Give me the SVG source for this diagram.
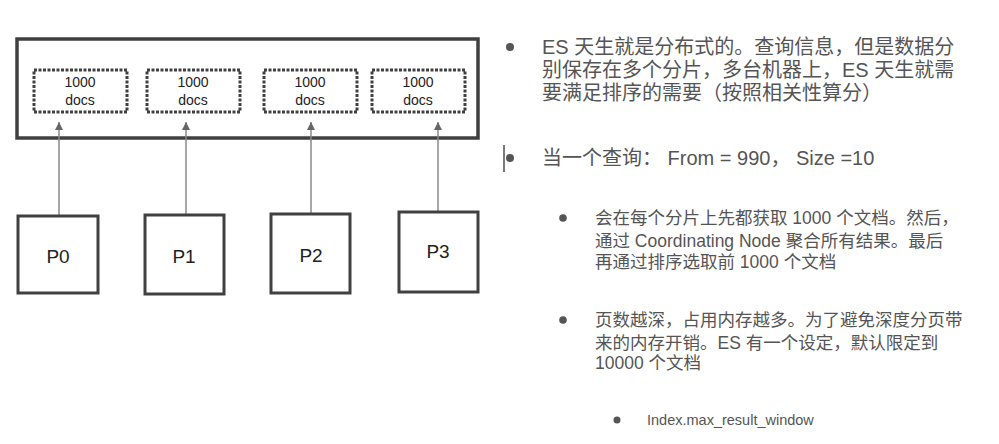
<svg xmlns="http://www.w3.org/2000/svg" width="999" height="444" viewBox="0 0 999 444">
<style>
.outer{fill:none;stroke:#404040;stroke-width:3.5}
.dot{fill:none;stroke:#404040;stroke-width:3;stroke-dasharray:3 1.5}
.pbox{fill:#fff;stroke:#404040;stroke-width:3}
.lbl{font-family:"Liberation Sans","Noto Sans CJK SC",sans-serif;fill:#222;text-anchor:middle}
.doc{font-size:14px}
.p{font-size:19px}
.conn{stroke:#8a8a8a;stroke-width:1.5;fill:none}
.t{font-family:"Liberation Sans","Noto Sans CJK SC",sans-serif;fill:#555}
.t1{font-size:20px}
.t2{font-size:17.5px}
.t3{font-size:14.5px}
.b{fill:#555}
</style>
<defs>
<marker id="ah" markerWidth="9" markerHeight="9" refX="8" refY="4" orient="auto" markerUnits="userSpaceOnUse" viewBox="0 0 9 8">
<path d="M0,0 L8,4 L0,8 Z" fill="#666"/>
</marker>
</defs>
<g id="index">
<rect class="outer" x="17" y="39" width="461" height="99"/>
</g>
<g id="shard0"><rect class="dot" x="34" y="70" width="93" height="42"/><text class="lbl doc" x="80" y="87">1000</text><text class="lbl doc" x="80" y="105">docs</text></g>
<g id="shard1"><rect class="dot" x="147" y="70" width="93" height="42"/><text class="lbl doc" x="193" y="87">1000</text><text class="lbl doc" x="193" y="105">docs</text></g>
<g id="shard2"><rect class="dot" x="264" y="70" width="93" height="42"/><text class="lbl doc" x="310" y="87">1000</text><text class="lbl doc" x="310" y="105">docs</text></g>
<g id="shard3"><rect class="dot" x="372" y="70" width="93" height="42"/><text class="lbl doc" x="418" y="87">1000</text><text class="lbl doc" x="418" y="105">docs</text></g>
<g id="connectors">
<line class="conn" x1="59" y1="216" x2="59" y2="122" marker-end="url(#ah)"/>
<line class="conn" x1="186" y1="214" x2="186" y2="122" marker-end="url(#ah)"/>
<line class="conn" x1="311" y1="213" x2="311" y2="122" marker-end="url(#ah)"/>
<line class="conn" x1="438" y1="212" x2="438" y2="122" marker-end="url(#ah)"/>
</g>
<g id="P0"><rect class="pbox" x="18" y="216" width="80" height="77"/><text class="lbl p" x="58" y="263">P0</text></g>
<g id="P1"><rect class="pbox" x="145" y="215" width="79" height="79"/><text class="lbl p" x="184" y="263">P1</text></g>
<g id="P2"><rect class="pbox" x="271" y="214" width="79" height="79"/><text class="lbl p" x="311" y="262">P2</text></g>
<g id="P3"><rect class="pbox" x="399" y="212" width="79" height="80"/><text class="lbl p" x="438" y="258">P3</text></g>
<g id="notes">
<circle class="b" cx="510" cy="47" r="4"/>
<text class="t t1" x="542" y="54">ES 天生就是分布式的。查询信息，但是数据分</text>
<text class="t t1" x="542" y="77">别保存在多个分片，多台机器上，ES 天生就需</text>
<text class="t t1" x="542" y="100">要满足排序的需要（按照相关性算分）</text>
<line x1="504" y1="145" x2="504" y2="172" stroke="#222" stroke-width="1.2"/>
<circle class="b" cx="510" cy="158" r="4"/>
<text class="t t1" x="542" y="165">当一个查询： From = 990， Size =10</text>
<circle class="b" cx="563" cy="218" r="3.8"/>
<text class="t t2" x="595" y="224">会在每个分片上先都获取 1000 个文档。然后，</text>
<text class="t t2" x="595" y="247">通过 Coordinating Node 聚合所有结果。最后</text>
<text class="t t2" x="595" y="268">再通过排序选取前 1000 个文档</text>
<circle class="b" cx="563" cy="320" r="3.8"/>
<text class="t t2" x="595" y="326">页数越深，占用内存越多。为了避免深度分页带</text>
<text class="t t2" x="595" y="349">来的内存开销。ES 有一个设定，默认限定到</text>
<text class="t t2" x="595" y="369">10000 个文档</text>
<circle class="b" cx="617" cy="420" r="3.5"/>
<text class="t t3" x="647" y="425">Index.max_result_window</text>
</g>
</svg>
